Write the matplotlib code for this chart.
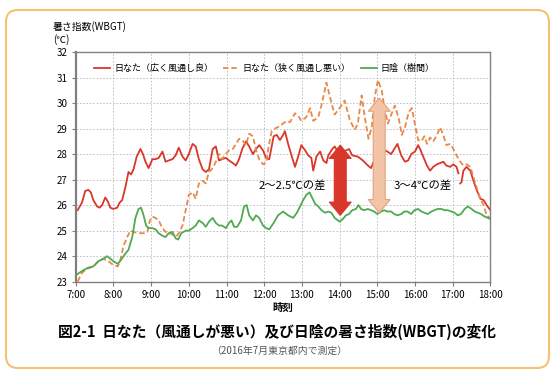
import numpy as np
import matplotlib
matplotlib.use('Agg')
import matplotlib.pyplot as plt
import matplotlib.patches as mpatches

plt.rcParams['font.family'] = ['Noto Sans CJK JP', 'DejaVu Sans']

## data (minutes after 7:00, WBGT)
red_t = [3, 10, 15, 20, 24, 28, 34, 38, 42, 47, 51, 55, 60, 66, 70, 74, 79, 84, 88, 92,
         97, 103, 107, 111, 116, 122, 127, 132, 138, 143, 148, 154, 159, 164, 170, 175, 180,
         186, 191, 196, 202, 207, 212, 218, 223, 228, 233, 239, 244, 250, 255, 260, 265,
         271, 276, 282, 287, 292, 298, 303, 308, 315, 320, 325, 330, 333, 338, 344, 349,
         354, 359, 365, 370, 375, 378, 383, 389, 394, 399, 402, 407, 412, 420, 427, 435,
         440, 449, 457, 465, 470, 475, 480, 491, 496, 502, 507, 512, 518, 524, 529, 534,
         540, 545, 548, 553, 559, 564, 569, 575, 580, 585, 590, 596, 601, 606, 609, 610,
         612, 614, 617, 622, 628, 633, 638, 644, 649, 654, 660]
red_v = [25.8, 26.1, 26.55, 26.6, 26.5, 26.2, 25.95, 25.9, 26.0, 26.3, 26.15, 25.9, 25.85,
         25.9, 26.1, 26.2, 26.7, 27.3, 27.2, 27.4, 27.9, 28.2, 28.0, 27.7, 27.45, 27.8, 27.8,
         27.85, 28.1, 27.7, 27.75, 27.8, 27.95, 28.25, 27.9, 27.75, 28.0, 28.4, 28.3, 27.8,
         27.4, 27.3, 27.4, 28.2, 28.3, 27.75, 27.8, 27.85, 27.75, 27.65, 27.55, 27.8, 28.2,
         28.5, 28.3, 28.0, 28.2, 28.35, 28.15, 27.85, 27.8, 28.7, 28.75, 28.55, 28.75, 28.9,
         28.4, 27.9, 27.5, 27.9, 28.35, 28.15, 27.95, 27.85, 27.35, 27.9, 28.1, 27.75, 27.65,
         27.95, 28.15, 28.3, 28.0, 28.1, 28.2, 27.95, 27.9, 27.75, 27.55, 27.45, 27.75, 27.95,
         28.15, 28.1, 28.0, 28.2, 28.4, 27.95, 27.7, 27.75, 28.0, 28.1, 28.35, 28.2, 27.9,
         27.55, 27.35, 27.5, 27.6, 27.65, 27.7, 27.55, 27.5, 27.6, 27.5, 27.25, np.nan,
         26.85, 26.9, 27.35, 27.5, 27.35, 26.95, 26.6, 26.25, 26.2, 26.0, 25.8]

orange_t = [3, 10, 18, 28, 36, 44, 52, 60, 67, 71, 76, 82, 87, 92, 100, 108, 114, 118, 122,
            127, 132, 138, 143, 148, 154, 159, 164, 170, 175, 180, 186, 191, 196, 202, 207,
            212, 218, 223, 228, 233, 239, 244, 250, 255, 260, 265, 271, 276, 282, 287, 292,
            298, 303, 307, 312, 317, 325, 330, 336, 341, 349, 354, 359, 367, 373, 378, 386,
            391, 399, 404, 412, 420, 428, 436, 444, 449, 455, 460, 466, 471, 476, 481, 487,
            492, 497, 503, 508, 514, 519, 524, 530, 535, 540, 545, 550, 555, 559, 564, 569,
            575, 580, 585, 590, 596, 601, 606, 612, 617, 622, 628, 633, 638, 644, 649, 654, 659]
orange_v = [23.0, 23.35, 23.5, 23.6, 23.8, 23.9, 23.8, 23.65, 23.6, 23.85, 24.4, 24.75, 25.0,
            24.95, 24.9, 24.9, 24.95, 25.4, 25.55, 25.5, 25.4, 25.1, 24.95, 24.9, 24.85, 24.75,
            24.9, 25.2, 25.8, 26.4, 26.5, 26.25, 26.85, 26.95, 26.85, 27.3, 27.45, 27.7, 28.0,
            27.8, 28.0, 28.15, 28.2, 28.4, 28.6, 28.55, 28.35, 28.8, 28.7, 28.15, 27.8, 27.6,
            27.65, 28.3, 28.9, 29.0, 29.1, 29.2, 29.3, 29.25, 29.6, 29.5, 29.3, 29.45, 29.8,
            29.3, 29.45, 29.9, 30.8, 30.3, 29.55, 29.8, 30.1, 29.35, 28.95, 29.2, 30.3, 29.45,
            28.6, 29.05, 30.25, 30.9, 30.5, 29.7, 29.2, 29.6, 29.9, 29.4, 28.75, 29.05, 29.65,
            29.8, 29.15, 28.55, 28.5, 28.7, 28.4, 28.65, 28.5, 28.75, 29.05, 28.75, 28.35, 28.4,
            28.2, 27.95, 27.7, 27.55, 27.6, 27.5, 27.1, 26.7, 26.25, 26.0, 25.6, 25.5]

green_t = [3, 12, 20, 28, 36, 44, 50, 55, 60, 67, 72, 79, 84, 90, 95, 100, 104, 108, 112,
           116, 122, 127, 132, 138, 143, 148, 154, 159, 163, 168, 175, 180, 186, 191, 196,
           202, 207, 212, 218, 223, 228, 233, 239, 244, 248, 252, 257, 263, 268, 272, 276,
           282, 287, 292, 298, 303, 308, 315, 322, 330, 338, 346, 352, 357, 362, 367, 372,
           375, 381, 386, 391, 397, 402, 407, 412, 420, 425, 430, 435, 440, 446, 450, 454,
           459, 465, 470, 475, 480, 486, 491, 496, 502, 507, 512, 518, 523, 528, 534, 539,
           545, 550, 555, 560, 566, 571, 576, 582, 587, 592, 598, 603, 608, 613, 619, 624,
           630, 635, 640, 645, 651, 656, 660]
green_v = [23.3, 23.45, 23.55, 23.6, 23.8, 23.9, 24.0, 23.9, 23.8, 23.7, 23.85, 24.1, 24.25,
           24.75, 25.5, 25.85, 25.9, 25.6, 25.2, 25.1, 25.1, 25.05, 24.9, 24.8, 24.75, 24.9,
           24.95, 24.7, 24.65, 24.9, 25.0, 25.0, 25.1, 25.2, 25.4, 25.3, 25.15, 25.35, 25.5,
           25.3, 25.2, 25.2, 25.1, 25.3, 25.4, 25.15, 25.15, 25.4, 25.95, 26.0, 25.6, 25.4,
           25.6, 25.5, 25.2, 25.1, 25.05, 25.3, 25.6, 25.75, 25.6, 25.5, 25.7, 25.95, 26.2,
           26.4, 26.5, 26.35, 26.05, 25.95, 25.8, 25.7, 25.75, 25.7, 25.5, 25.35, 25.45, 25.6,
           25.65, 25.8, 25.85, 26.0, 25.85, 25.8, 25.85, 25.8, 25.75, 25.65, 25.75, 25.8,
           25.75, 25.75, 25.65, 25.6, 25.65, 25.75, 25.75, 25.65, 25.8, 25.85, 25.75, 25.7,
           25.65, 25.75, 25.8, 25.85, 25.85, 25.8, 25.8, 25.75, 25.7, 25.6, 25.65, 25.85,
           25.95, 25.85, 25.75, 25.7, 25.65, 25.55, 25.5, 25.45]

hour_labels = ['7:00', '8:00', '9:00', '10:00', '11:00', '12:00', '13:00', '14:00',
               '15:00', '16:00', '17:00', '18:00']
labels = ['日なた（広く風通し良）', '日なた（狭く風通し悪い）', '日陰（樹間）']

# arrows: (center minute, low, high)
arrow_red = (421, 25.6, 28.35)
arrow_peach = (483, 25.7, 30.2)

fig = plt.figure(figsize=(5.58, 3.78), dpi=100)
ax = fig.add_axes([0.1357, 0.2548, 0.8789 - 0.1357, 0.8624 - 0.2548])

ax.plot(red_t, red_v, color='#D8372A', lw=1.3, label=labels[0])
ax.plot(orange_t, orange_v, color='#E8894A', lw=1.3, ls=(0, (3, 1.6)), label=labels[1])
ax.plot(green_t, green_v, color='#4FAA52', lw=1.3, label=labels[2])


def double_arrow(cx, lo, hi, fc, ec):
    hw = 17.5    # half head width (minutes)
    sw = 9.5     # half shaft width
    hl = 0.52    # head length
    xs = [cx, cx + hw, cx + sw, cx + sw, cx + hw, cx, cx - hw, cx - sw, cx - sw, cx - hw]
    ys = [hi, hi - hl, hi - hl, lo + hl, lo + hl, lo, lo + hl, lo + hl, hi - hl, hi - hl]
    ax.add_patch(mpatches.Polygon(np.column_stack([xs, ys]), closed=True,
                                  facecolor=fc, edgecolor=ec, lw=0.8, zorder=5))


double_arrow(*arrow_red, fc='#D8372A', ec='#D8372A')
double_arrow(*arrow_peach, fc='#F3C4A6', ec='#DFA27C')

ax.text(344, 26.78, '2～2.5℃の差', ha='center', va='center', fontsize=8.2, zorder=6)
ax.text(553, 26.78, '3～4℃の差', ha='center', va='center', fontsize=8.2, zorder=6)

ax.set_xlim(0, 660)
ax.set_ylim(23, 32)
ax.set_xticks(np.arange(0, 661, 60))
ax.set_xticklabels(hour_labels)
ax.set_yticks(np.arange(23, 33, 1))
ax.tick_params(labelsize=7, length=3, width=0.8, color='#7f7f7f', pad=3)
for s in ax.spines.values():
    s.set_color('#808080')
    s.set_linewidth(1.0)
ax.spines['left'].set_linewidth(1.6)
ax.grid(True, color='#b8b8b8', ls=(0, (2, 2)), lw=0.6)
ax.set_axisbelow(True)
ax.set_xlabel('時刻', fontsize=7.5, fontweight='bold', labelpad=2)

ax.legend(loc='upper center', bbox_to_anchor=(0.455, 0.985), ncol=3, frameon=False,
          fontsize=6.5, handlelength=1.8, columnspacing=1.1, handletextpad=0.4)

fig.text(53 / 558, 1 - 27 / 378, '暑さ指数(WBGT)', ha='left', va='center', fontsize=7.1)
fig.text(53 / 558, 1 - 40 / 378, '(℃)', ha='left', va='center', fontsize=7.1)

fig.text(277 / 558, 1 - 332 / 378, '図2-1  日なた（風通しが悪い）及び日陰の暑さ指数(WBGT)の変化',
         ha='center', va='center', fontsize=10.6, fontweight='bold')
fig.text(279 / 558, 1 - 351 / 378, '（2016年7月東京都内で測定）', ha='center', va='center',
         fontsize=7.1, color='#555555')

# frame round the whole figure
frame = mpatches.FancyBboxPatch((6, 10), 543, 358, boxstyle='round,pad=0,rounding_size=12',
                                transform=None, facecolor='none', edgecolor='#F4C274', lw=1.5)
fig.patches.append(frame)

fig.savefig('out.png', dpi=100)
